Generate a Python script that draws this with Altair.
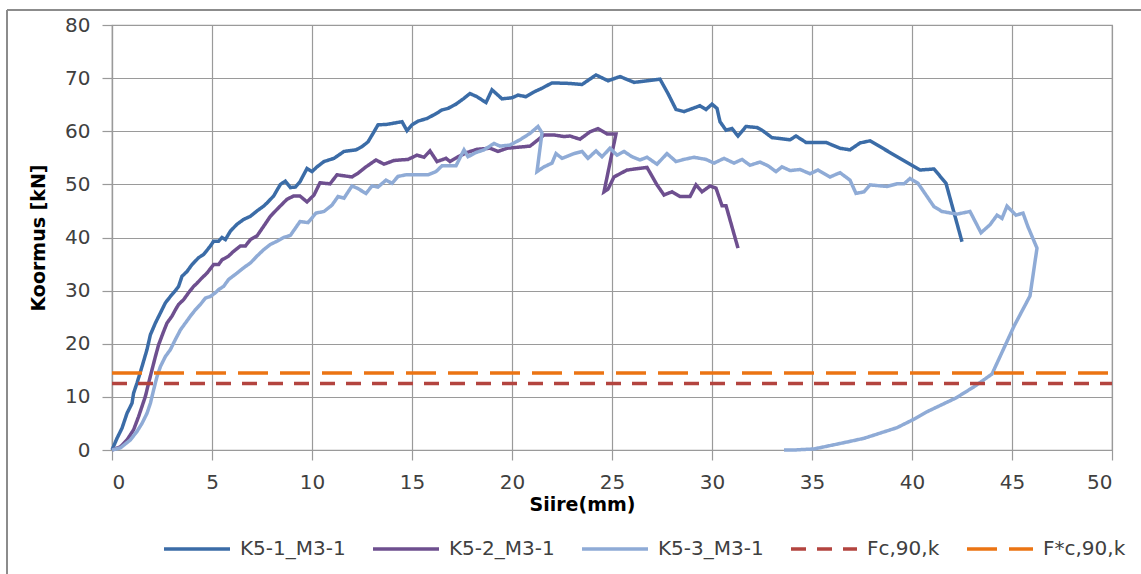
import altair as alt
import pandas as pd

# Load-displacement records of the three compression tests
k51_x = [0, 0.25, 0.5, 0.75, 1.0, 1.08, 1.25, 1.5, 1.75, 1.92, 2.17, 2.42, 2.67, 2.92, 3.17, 3.33,
         3.5, 3.75, 4.0, 4.33, 4.58, 4.92, 5.08, 5.33, 5.5, 5.67, 5.92, 6.25, 6.58, 6.92, 7.25, 7.58,
         7.75, 8.08, 8.42, 8.67, 8.92, 9.17, 9.4, 9.75, 10.0, 10.25, 10.6, 11.1, 11.6, 12.2, 12.5,
         12.8, 13.1, 13.3, 13.75, 14.5, 14.75, 15.0, 15.3, 15.75, 16.1, 16.5, 16.8, 17.2, 17.6, 17.9,
         18.25, 18.7, 19.0, 19.5, 20.0, 20.3, 20.7, 21.1, 21.5, 22.0, 22.9, 23.5, 24.2, 24.8, 25.4,
         26.1, 27.4, 27.8, 28.2, 28.6, 29.4, 29.7, 30.0, 30.25, 30.4, 30.7, 31.0, 31.3, 31.7, 32.25,
         32.5, 33.0, 33.9, 34.2, 34.7, 35.7, 36.4, 36.9, 37.4, 37.9, 40.4, 41.1, 41.7, 42.5]
k51_y = [0, 2.2, 4.1, 6.9, 8.8, 10.7, 12.6, 15.7, 18.9, 21.7, 23.9, 25.8, 27.7, 28.9, 30.0, 30.8,
         32.7, 33.6, 34.9, 36.2, 36.8, 38.4, 39.3, 39.3, 40.0, 39.6, 41.2, 42.5, 43.4, 44.0, 45.0, 45.9,
         46.5, 47.8, 50.0, 50.6, 49.4, 49.5, 50.5, 53.0, 52.4, 53.3, 54.3, 54.9, 56.2, 56.5, 57.1,
         58.0, 59.9, 61.2, 61.3, 61.8, 60.1, 61.2, 61.9, 62.4, 63.1, 64.0, 64.3, 65.1, 66.2, 67.1,
         66.5, 65.4, 67.8, 66.1, 66.3, 66.8, 66.5, 67.4, 68.1, 69.1, 69.0, 68.8, 70.6, 69.5, 70.3,
         69.2, 69.8, 67.1, 64.1, 63.7, 64.8, 64.1, 65.1, 64.3, 61.8, 60.2, 60.5, 59.1, 60.9, 60.7,
         60.2, 58.8, 58.4, 59.1, 57.9, 57.9, 56.8, 56.5, 57.8, 58.2, 52.7, 52.9, 50.2, 39.2]

k52_x = [0, 0.42, 0.75, 1.08, 1.33, 1.5, 1.67, 1.83, 2.0, 2.17, 2.33, 2.58, 2.75, 3.0, 3.17, 3.33,
         3.58, 3.83, 4.08, 4.25, 4.5, 4.75, 5.08, 5.33, 5.5, 5.83, 6.08, 6.42, 6.67, 6.92, 7.25, 7.58,
         7.92, 8.25, 8.75, 9.08, 9.4, 9.75, 10.1, 10.4, 10.9, 11.25, 12.0, 12.3, 12.7, 13.2, 13.6,
         14.1, 14.8, 15.25, 15.6, 15.9, 16.25, 16.7, 16.9, 17.3, 17.75, 18.25, 18.9, 19.3, 19.75,
         20.9, 21.3, 21.6, 22.1, 22.6, 22.9, 23.4, 23.9, 24.3, 24.75, 25.2, 24.6, 24.8, 25.1, 25.75,
         26.75, 27.25, 27.6, 28.0, 28.4, 28.9, 29.2, 29.5, 29.9, 30.2, 30.5, 30.7, 31.3]
k52_y = [0, 0.6, 1.9, 3.8, 6.3, 8.2, 10.1, 12.6, 15.1, 17.6, 19.8, 22.3, 23.9, 25.2, 26.4, 27.4,
         28.3, 29.6, 30.8, 31.4, 32.4, 33.3, 34.9, 34.9, 35.8, 36.5, 37.4, 38.4, 38.4, 39.6, 40.3, 42.1,
         44.0, 45.3, 47.2, 47.8, 47.8, 46.7, 48.0, 50.3, 50.1, 51.8, 51.4, 52.1, 53.3, 54.6, 53.8,
         54.5, 54.7, 55.5, 55.1, 56.3, 54.3, 54.9, 54.3, 55.2, 56.0, 56.6, 56.8, 56.2, 56.8,
         57.2, 58.4, 59.3, 59.3, 59.0, 59.1, 58.5, 59.9, 60.5, 59.5, 59.5, 48.6, 49.1, 51.4, 52.7,
         53.2, 49.9, 48.0, 48.6, 47.7, 47.7, 49.9, 48.6, 49.7, 49.3, 46.0, 46.0, 38.0]

k53_x = [0, 0.42, 0.92, 1.25, 1.5, 1.75, 1.92, 2.08, 2.25, 2.42, 2.67, 2.92, 3.17, 3.42, 3.67, 3.92,
         4.17, 4.42, 4.67, 4.92, 5.17, 5.33, 5.58, 5.83, 6.25, 6.58, 6.92, 7.25, 7.58, 7.92, 8.25, 8.58,
         8.92, 9.4, 9.8, 10.2, 10.6, 11.0, 11.3, 11.6, 12.0, 12.25, 12.7, 13.0, 13.3, 13.7, 14.0,
         14.3, 14.7, 15.2, 15.8, 16.2, 16.5, 17.2, 17.6, 17.8, 18.2, 18.6, 19.1, 19.4, 19.9, 20.4,
         20.9, 21.3, 21.5, 21.25, 21.6, 22.0, 22.2, 22.5, 23.1, 23.5, 23.8, 24.2, 24.5, 24.9, 25.25,
         25.6, 26.0, 26.4, 26.75, 27.25, 27.75, 28.2, 28.6, 29.1, 29.7, 30.1, 30.6, 31.1, 31.5, 31.9,
         32.4, 32.8, 33.2, 33.5, 33.9, 34.4, 34.9, 35.3, 35.9, 36.4, 36.9, 37.2, 37.6, 37.9, 38.75,
         39.25, 39.6, 39.9, 40.3, 41.1, 41.5, 42.25, 42.9, 43.45, 43.9, 44.25, 44.5, 44.75, 45.2,
         45.55, 45.8, 46.25, 45.9, 45.1, 44.0, 43.1, 42.2, 40.75, 40.1, 39.25, 37.6, 36.75, 35.1,
         34.1, 33.6]
k53_y = [0, 0.4, 1.9, 3.5, 5.0, 6.9, 8.8, 11.3, 13.8, 15.7, 17.6, 18.9, 20.8, 22.6, 23.9, 25.2,
         26.4, 27.4, 28.6, 28.9, 29.6, 30.2, 30.8, 32.1, 33.3, 34.3, 35.2, 36.5, 37.7, 38.7, 39.3, 40.0,
         40.4, 43.0, 42.8, 44.6, 44.9, 46.1, 47.7, 47.4, 49.7, 49.3, 48.3, 49.7, 49.5, 50.8, 50.2,
         51.5, 51.8, 51.8, 51.8, 52.4, 53.5, 53.5, 56.5, 55.2, 56.0, 56.5, 57.7, 57.2, 57.4, 58.4,
         59.6, 60.9, 59.7, 52.4, 53.3, 54.0, 55.8, 54.9, 55.8, 56.2, 54.9, 56.3, 55.2, 56.8, 55.5,
         56.2, 55.2, 54.6, 55.1, 53.8, 55.8, 54.3, 54.7, 55.1, 54.7, 54.0, 54.9, 54.0, 54.7, 53.6,
         54.2, 53.5, 52.4, 53.3, 52.6, 52.8, 52.0, 52.7, 51.4, 52.2, 50.8, 48.3, 48.6, 49.9, 49.6,
         50.1, 50.1, 51.1, 50.2, 45.8, 44.9, 44.4, 44.9, 40.9, 42.4, 44.2, 43.6, 45.9, 44.2,
         44.6, 42.0, 38.0, 29.0, 23.3, 14.3, 11.9, 9.8, 7.2, 5.8, 4.2, 2.2, 1.5, 0.2,
         0.0, 0.0]

# Characteristic strength levels (kN), drawn across the full displacement range
fc90k = 12.5
fc90k_star = 14.5
x_span = [0, 50]

series_names = ["K5-1_M3-1", "K5-2_M3-1", "K5-3_M3-1", "Fc,90,k", "F*c,90,k"]
series_colors = ["#3B6CA7", "#6E4F8F", "#8FABD6", "#B3443F", "#EB7413"]
series_dashes = [[1, 0], [1, 0], [1, 0], [15, 11], [30, 12]]

rows = []
for name, xs, ys in [
    (series_names[0], k51_x, k51_y),
    (series_names[1], k52_x, k52_y),
    (series_names[2], k53_x, k53_y),
    (series_names[3], x_span, [fc90k, fc90k]),
    (series_names[4], x_span, [fc90k_star, fc90k_star]),
]:
    for i, (xv, yv) in enumerate(zip(xs, ys)):
        rows.append({"series": name, "siire": xv, "koormus": yv, "idx": i})
df = pd.DataFrame(rows)

FONT = "DejaVu Sans"
legend_cfg = alt.Legend(
    title=None,
    orient="none",
    legendX=50,
    legendY=489,
    direction="horizontal",
    symbolType="stroke",
    symbolSize=4356,
    symbolStrokeWidth=3.5,
    labelFont=FONT,
    labelFontSize=20,
    labelColor="#404040",
    labelOffset=8,
    columnPadding=20,
)

lines = alt.Chart(df).mark_line(strokeWidth=3.5, clip=False).encode(
    x=alt.X(
        "siire:Q",
        scale=alt.Scale(domain=[0, 50], nice=False, zero=True),
        axis=alt.Axis(
            title="Siire(mm)",
            values=list(range(0, 51, 5)),
            titleX=470,
            titleY=45,
            titleBaseline="top",
        ),
    ),
    y=alt.Y(
        "koormus:Q",
        scale=alt.Scale(domain=[0, 80], nice=False),
        axis=alt.Axis(
            title="Koormus [kN]",
            values=list(range(0, 81, 10)),
            titleX=-74,
            titleY=212.5,
            titleAngle=-90,
            titleBaseline="middle",
            titleAlign="center",
        ),
    ),
    color=alt.Color(
        "series:N",
        scale=alt.Scale(domain=series_names, range=series_colors),
        legend=legend_cfg,
    ),
    strokeDash=alt.StrokeDash(
        "series:N",
        scale=alt.Scale(domain=series_names, range=series_dashes),
        legend=legend_cfg,
    ),
    order="idx:Q",
)

# Outer chart frame: left and top edges
frame_src = pd.DataFrame({"edge": [0]})
frame_left = alt.Chart(frame_src).mark_rule(color="#8C8C8C", strokeWidth=2, clip=False).encode(
    x=alt.value(-105), y=alt.value(-15), y2=alt.value(600)
)
frame_top = alt.Chart(frame_src).mark_rule(color="#8C8C8C", strokeWidth=2, clip=False).encode(
    x=alt.value(-105), x2=alt.value(1100), y=alt.value(-15)
)

chart = (
    alt.layer(frame_left, frame_top, lines)
    .properties(
        width=1000,
        height=425,
        padding={"left": 112, "top": 25, "right": 29, "bottom": 124},
        autosize=alt.AutoSizeParams(type="none"),
        background="white",
    )
    .configure_view(stroke="#9A9A9A", strokeWidth=1.2)
    .configure_axis(
        grid=True,
        gridColor="#9A9A9A",
        gridWidth=1.2,
        domainColor="#9A9A9A",
        domainWidth=1.2,
        tickColor="#9A9A9A",
        tickWidth=1.2,
        tickSize=10,
        labelFont=FONT,
        labelFontSize=20,
        labelColor="#404040",
        titleFont=FONT,
        titleFontSize=19,
        titleFontWeight="bold",
        titleColor="#000000",
    )
    .configure_axisX(labelPadding=12)
    .configure_axisY(labelPadding=12)
)

chart.save("out.html", embed_options={"renderer": "svg", "actions": False})
